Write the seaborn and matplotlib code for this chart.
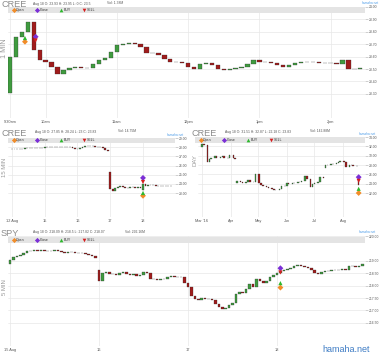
import numpy as np
import pandas as pd
import matplotlib
matplotlib.use('Agg')
import matplotlib.pyplot as plt
import matplotlib.dates as mdates
from matplotlib.patches import Rectangle
import seaborn as sns

W, H = 380, 358

# ---- 1 MIN panel: CREE Aug 18, 5 minute buckets (minutes after 9:30)
p1_close = [23.60, 23.76, 23.80, 23.88, 23.65, 23.57, 23.56, 23.52, 23.46, 23.49,
            23.51, 23.52, 23.51, 23.51, 23.54, 23.57, 23.59, 23.64, 23.69, 23.70,
            23.71, 23.70, 23.68, 23.63, 23.63, 23.61, 23.58, 23.56, 23.56, 23.55,
            23.52, 23.50, 23.54, 23.55, 23.53, 23.50, 23.49, 23.50, 23.51, 23.52,
            23.54, 23.57, 23.56, 23.56, 23.55, 23.53, 23.52, 23.53, 23.55, 23.56,
            23.56, 23.56, 23.55, 23.55, 23.55, 23.54, 23.57, 23.50, 23.50, 23.51]
p1_gap_open = {0: 23.31}
p1_xticks = [0, 30, 90, 150, 210, 270]
p1_xlabels = ['9:30am', '10am', '11am', '12pm', '1pm', '2pm']
p1_yticks = [23.3, 23.4, 23.5, 23.6, 23.7, 23.8, 23.9, 24.0]
p1_mark_kind = ['Open', 'BUY', 'Close', 'SELL']
p1_mark_x = [12.6, 12.6, 21.6, 21.6]
p1_mark_y = [23.72, 23.75, 23.76, 23.73]

# ---- 15 MIN panel: CREE Aug 12-18, half hour buckets
p2_close = [27.78, 27.80, 27.82, 27.85, 27.84, 27.86, 27.86, 27.88, 27.87, 27.88, 27.90, 27.92, 27.95,
            28.05, 28.03, 28.02, 28.04, 28.00, 28.02, 28.00, 28.03, 28.02, 28.04, 28.00, 27.95, 27.85,
            27.80, 27.95, 28.05, 28.08, 28.12, 28.15, 28.10, 28.05, 28.00, 28.02, 27.95, 27.70, 27.55,
            23.40, 23.20, 23.55, 23.70, 23.75, 23.65, 23.50, 23.60, 23.70, 23.65, 23.60, 23.65, 23.60,
            24.00, 23.80, 23.85, 23.90, 23.85, 23.80, 23.80, 23.75, 23.80, 23.75, 23.80, 23.80]
p2_gap_open = {0: 27.75, 39: 25.30, 52: 23.30}
p2_xticks = [0, 13, 26, 39, 52]
p2_xlabels = ['12 Aug', '15', '16', '17', '18']
p2_yticks = [23, 24, 25, 26, 27, 28, 29]
p2_mark_kind = ['Open', 'BUY', 'Close', 'SELL']
p2_mark_x = [52, 52, 52, 52]
p2_mark_y = [22.7, 23.0, 24.65, 24.2]

# ---- DAY panel: CREE Mar-Aug 2016, every second business day
p3_close = [32.6, 32.3, 28.6, 29.2, 29.6, 29.9, 29.5, 29.7, 29.9, 29.6, 29.4, 30.2,
            29.5, 29.3, 24.6, 24.3, 24.2, 24.3, 24.8, 24.3, 24.4, 26.0,
            24.2, 23.8, 23.5, 23.2, 23.0, 22.8, 22.6, 22.7, 22.9, 23.4, 23.6,
            24.1, 24.0, 24.2, 24.1, 24.3, 24.4, 24.6, 25.6, 25.1, 23.3, 23.9,
            24.1, 24.3, 25.5, 25.2, 27.9, 28.1, 28.3, 28.2, 28.5, 28.7, 28.8,
            28.6, 27.5, 27.9, 28.0, 27.8, 27.7, 23.8]
p3_gap_open = {0: 31.8, 14: 24.2, 48: 27.4, 61: 25.0}
p3_start, p3_end = '2016-03-01', '2016-08-18'
p3_xticks = ['2016-03-01', '2016-04-01', '2016-05-01', '2016-06-01', '2016-07-01', '2016-08-01']
p3_xlabels = ["Mar '16", 'Apr', 'May', 'Jun', 'Jul', 'Aug']
p3_yticks = [22, 24, 26, 28, 30, 32, 34]
p3_mark_kind = ['Open', 'BUY', 'Close', 'SELL']
p3_mark_y = [22.0, 22.9, 25.4, 24.6]

# ---- 5 MIN panel: SPY Aug 15-18, 15 minute buckets
p4_close = [219.05, 219.15, 219.20, 219.22, 219.32, 219.38, 219.40, 219.42, 219.40, 219.42, 219.41, 219.38, 219.40,
            219.42, 219.38, 219.35, 219.33, 219.36, 219.34, 219.30, 219.33, 219.30, 219.26, 219.22, 219.18, 219.10,
            218.20, 218.50, 218.55, 218.48, 218.45, 218.42, 218.50, 218.56, 218.45, 218.42, 218.45, 218.40, 218.42,
            218.55, 218.50, 218.28, 218.25, 218.22, 218.28, 218.25, 218.36, 218.38, 218.36, 218.33, 218.35, 218.10,
            217.95, 217.60, 217.45, 217.42, 217.48, 217.45, 217.47, 217.40, 217.25, 217.12, 217.05, 217.10, 217.20,
            217.30, 217.65, 217.75, 217.72, 217.85, 218.05, 217.95, 218.25, 218.20, 218.12, 218.20, 218.35, 218.42,
            218.50, 218.58, 218.62, 218.66, 218.70, 218.80, 218.85, 218.80, 218.75, 218.72, 218.62, 218.50, 218.45,
            218.55, 218.58, 218.57, 218.62, 218.64, 218.62, 218.65, 218.62, 218.78, 218.80, 218.75, 218.78, 218.88]
p4_gap_open = {0: 218.88, 26: 218.64}
p4_xticks = [0, 26, 52, 78]
p4_xlabels = ['15 Aug', '16', '17', '18']
p4_yticks = [216.5, 217.0, 217.5, 218.0, 218.5, 219.0, 220.0]
p4_mark_kind = ['Open', 'BUY', 'Close', 'SELL']
p4_mark_x = [79, 79, 79, 79]
p4_mark_y = [217.92, 218.10, 218.70, 218.53]

headers = [
    # symbol, symbol pos, info, info pos, vol, vol x, site pos
    ('CREE', (1, 4.6), 'Aug 18 O: 23.93 H: 23.95 L: 0 C: 23.5', (33, 3.5), 'Vol: 1.38M', 107, (370, 3)),
    ('CREE', (1, 133), 'Aug 18 O: 27.85 H: 28.24 L: 23 C: 23.83', (35, 131.5), 'Vol: 14.75M', 118, (175, 134.5)),
    ('CREE', (191, 133), 'Aug 18 O: 31.51 H: 32.87 L: 22.18 C: 23.83', (225, 131.5), 'Vol: 142.88M', 310, (367, 134)),
    ('SPY', (1, 234), 'Aug 18 O: 218.09 H: 218.5 L: 217.82 C: 218.07', (33, 232), 'Vol: 292.16M', 125, (367, 232)),
]
side_labels = [('1 MIN', (4.5, 48), 5.2), ('15 MIN', (5, 167), 4.3),
               ('DAY', (195, 160), 4.3), ('5 MIN', (5, 287), 4.3)]
legend_bars = [(8, 365, 7.3), (8, 175, 137.5), (195, 365, 137.3), (8, 365, 237.3)]
legend_names = ['Open', 'Close', 'BUY', 'SELL']
legend_offsets = [5.5, 29, 53, 76]

mark_colors = {'Open': '#f28c28', 'Close': '#7b2fd6', 'BUY': '#2db82d', 'SELL': '#d62020'}
mark_shapes = {'Open': 'D', 'Close': 'D', 'BUY': '^', 'SELL': 'v'}
UP, DOWN = '#3f9b3f', '#a01c1c'

sns.set_theme(style='whitegrid')
plt.rcParams['font.family'] = ['Liberation Sans', 'DejaVu Sans']

fig = plt.figure(figsize=(W / 100, H / 100), dpi=100)


def opens_from(close, gaps):
    o = [close[0]] + list(close[:-1])
    for k, v in gaps.items():
        o[k] = v
    return np.array(o)


def candles(ax, x, close, gaps, width):
    c = np.asarray(close)
    o = opens_from(close, gaps)
    lo = np.minimum(o, c)
    hi = np.maximum(o, c)
    ax.bar(x, hi - lo, width, lo, color=np.where(c >= o, UP, DOWN),
           edgecolor='#2a2a2a', linewidth=0.2, zorder=3)


def panel(box, xlim, ylim, yticks, xticks, xlabels):
    l, t, r, b = box
    ax = fig.add_axes([l / W, 1 - b / H, (r - l) / W, (b - t) / H])
    ax.set_xlim(xlim)
    ax.set_ylim(ylim)
    ax.set_yticks(yticks)
    ax.set_yticklabels([f'{v:.2f}' for v in yticks])
    ax.yaxis.tick_right()
    ax.set_xticks(xticks)
    ax.set_xticklabels(xlabels)
    ax.tick_params(axis='y', length=2, width=0.4, color='#aaaaaa', pad=1,
                   labelsize=2.4, labelcolor='#555555', right=True)
    ax.tick_params(axis='x', length=0, pad=1.5, labelsize=2.8, labelcolor='#555555')
    ax.grid(True, color='#e8e8e8', linewidth=0.5)
    for s in ax.spines.values():
        s.set_visible(False)
    ax.set_facecolor('white')
    return ax


def trade_marks(ax, xs, ys, kinds):
    df = pd.DataFrame({'x': xs, 'y': ys, 'kind': kinds})
    sns.scatterplot(data=df, x='x', y='y', hue='kind', style='kind', palette=mark_colors,
                    markers=mark_shapes, s=9, linewidth=0, legend=False, ax=ax, zorder=6)
    ax.set_xlabel('')
    ax.set_ylabel('')


# panel 1
ax1 = panel((8, 7, 365, 118), (-2 / 1.1875, 355 / 1.1875), (23.105, 24.0),
            p1_yticks, p1_xticks, p1_xlabels)
candles(ax1, np.arange(len(p1_close)) * 5, p1_close, p1_gap_open, 3.6)
trade_marks(ax1, p1_mark_x, p1_mark_y, p1_mark_kind)

# panel 2
ax2 = panel((8, 138, 175, 217), (-4 / 2.519, 163 / 2.519), (29 - 79 / 9.17, 29),
            p2_yticks, p2_xticks, p2_xlabels)
candles(ax2, np.arange(len(p2_close)), p2_close, p2_gap_open, 0.75)
trade_marks(ax2, p2_mark_x, p2_mark_y, p2_mark_kind)

# panel 3
p3_dates = mdates.date2num(pd.bdate_range(p3_start, p3_end, freq='2B'))
p3_tick_num = mdates.date2num(pd.to_datetime(p3_xticks))
ax3 = panel((198, 137, 365, 217), (p3_tick_num[0] - 4 / 0.9216, p3_tick_num[-1] + 22 / 0.9216),
            (34 - 80 / 4.667, 34), p3_yticks, p3_tick_num, p3_xlabels)
candles(ax3, p3_dates, p3_close, p3_gap_open, 1.6)
trade_marks(ax3, [p3_dates[-1]] * 4, p3_mark_y, p3_mark_kind)

# panel 4
ax4 = panel((8, 236, 365, 346), (-2 / 3.423, 355 / 3.423), (220 - 110 / 24.8, 220),
            p4_yticks, p4_xticks, p4_xlabels)
candles(ax4, np.arange(len(p4_close)), p4_close, p4_gap_open, 0.75)
trade_marks(ax4, p4_mark_x, p4_mark_y, p4_mark_kind)

# overlay in pixel coordinates for headers and legend strips
ov = fig.add_axes([0, 0, 1, 1])
ov.set_xlim(0, W)
ov.set_ylim(H, 0)
ov.axis('off')
ov.patch.set_visible(False)

for sym, spos, info, ipos, vol, vx, site in headers:
    ov.text(spos[0], spos[1], sym, fontsize=6.6, color='#8c8c8c', va='center', ha='left')
    ov.text(ipos[0], ipos[1], info, fontsize=2.4, color='#555555', va='center', ha='left')
    ov.text(vx, ipos[1], vol, fontsize=2.4, color='#555555', va='center', ha='left')
    ov.text(site[0], site[1], 'hamaha.net', fontsize=2.3, color='#4a9be8', va='center', ha='center')

for name, pos, fs in side_labels:
    ov.text(pos[0], pos[1], name, fontsize=fs, color='#9a9a9a', rotation=90,
            va='center', ha='center')

for x0, x1, y0 in legend_bars:
    ov.add_patch(Rectangle((x0, y0), x1 - x0, 5.5, color='#e4e4e4', zorder=1, linewidth=0))
    for name, off in zip(legend_names, legend_offsets):
        ov.scatter([x0 + off], [y0 + 2.8], s=7, marker=mark_shapes[name],
                   color=mark_colors[name], linewidth=0, zorder=2)
        ov.text(x0 + off + 2.5, y0 + 2.8, name, fontsize=2.5, color='#333333',
                va='center', ha='left', zorder=2)

ov.text(346, 350, 'hamaha.net', fontsize=6.5, color='#3d7bc4', va='center', ha='center')

fig.savefig('out.png', dpi=100, facecolor='white')
